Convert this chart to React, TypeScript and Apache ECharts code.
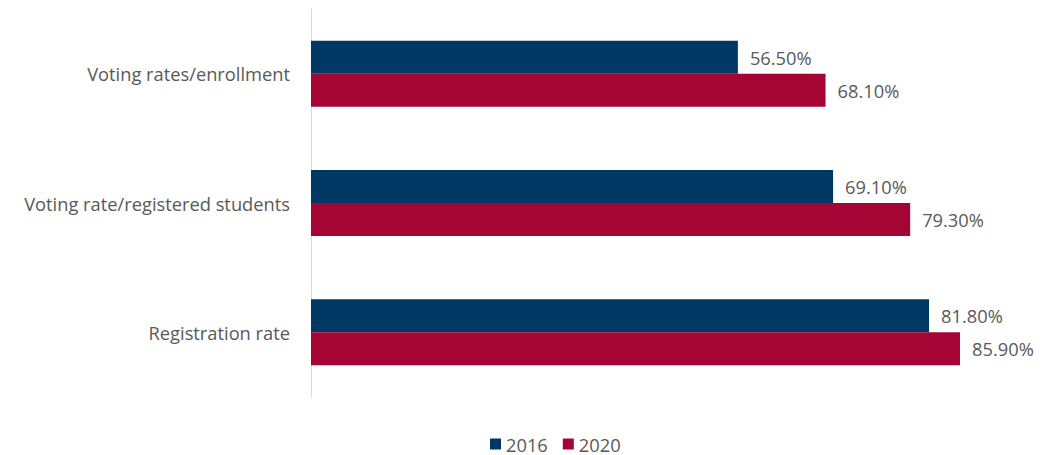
import React, { useEffect, useRef } from "react";
import * as echarts from "echarts";

const categories = ["Voting rates/enrollment", "Voting rate/registered students", "Registration rate"];
const values2016 = [56.5, 69.1, 81.8];
const values2020 = [68.1, 79.3, 85.9];
const seriesNames = ["2016", "2020"];

export default function App() {
  const ref = useRef<HTMLDivElement>(null);
  useEffect(() => {
    const chart = echarts.init(ref.current!, null, { renderer: "svg" });
    const font = "'Open Sans', sans-serif";
    const fs = 18.3;
    const label = {
      show: true,
      position: "right",
      distance: 12,
      color: "#595959",
      fontSize: fs,
      fontFamily: font,
      formatter: (p: any) => p.value.toFixed(2) + "%",
    };
    chart.setOption({
      animation: false,
      grid: { left: 311, right: 58, top: 9, bottom: 58 },
      xAxis: {
        type: "value",
        min: 0,
        max: 90,
        show: false,
      },
      yAxis: {
        type: "category",
        data: categories,
        inverse: true,
        axisLine: { show: true, lineStyle: { color: "#d9d9d9", width: 1 } },
        axisTick: { show: false },
        axisLabel: { color: "#595959", fontSize: fs, fontFamily: font, margin: 21 },
      },
      legend: {
        top: 430,
        left: 485,
        itemWidth: 11,
        itemHeight: 11,
        itemGap: 15,
        icon: "rect",
        textStyle: { color: "#595959", fontSize: fs, fontFamily: font },
        data: seriesNames,
      },
      series: [
        {
          name: seriesNames[0],
          type: "bar",
          data: values2016,
          barWidth: 33,
          barGap: "0%",
          itemStyle: { color: "#003865" },
          label,
        },
        {
          name: seriesNames[1],
          type: "bar",
          data: values2020,
          barWidth: 33,
          barGap: "0%",
          itemStyle: { color: "#A50534" },
          label,
        },
      ],
    });
    return () => chart.dispose();
  }, []);
  return <div ref={ref} style={{ position: "absolute", left: 0, top: 0, width: 1049, height: 455 }} />;
}
